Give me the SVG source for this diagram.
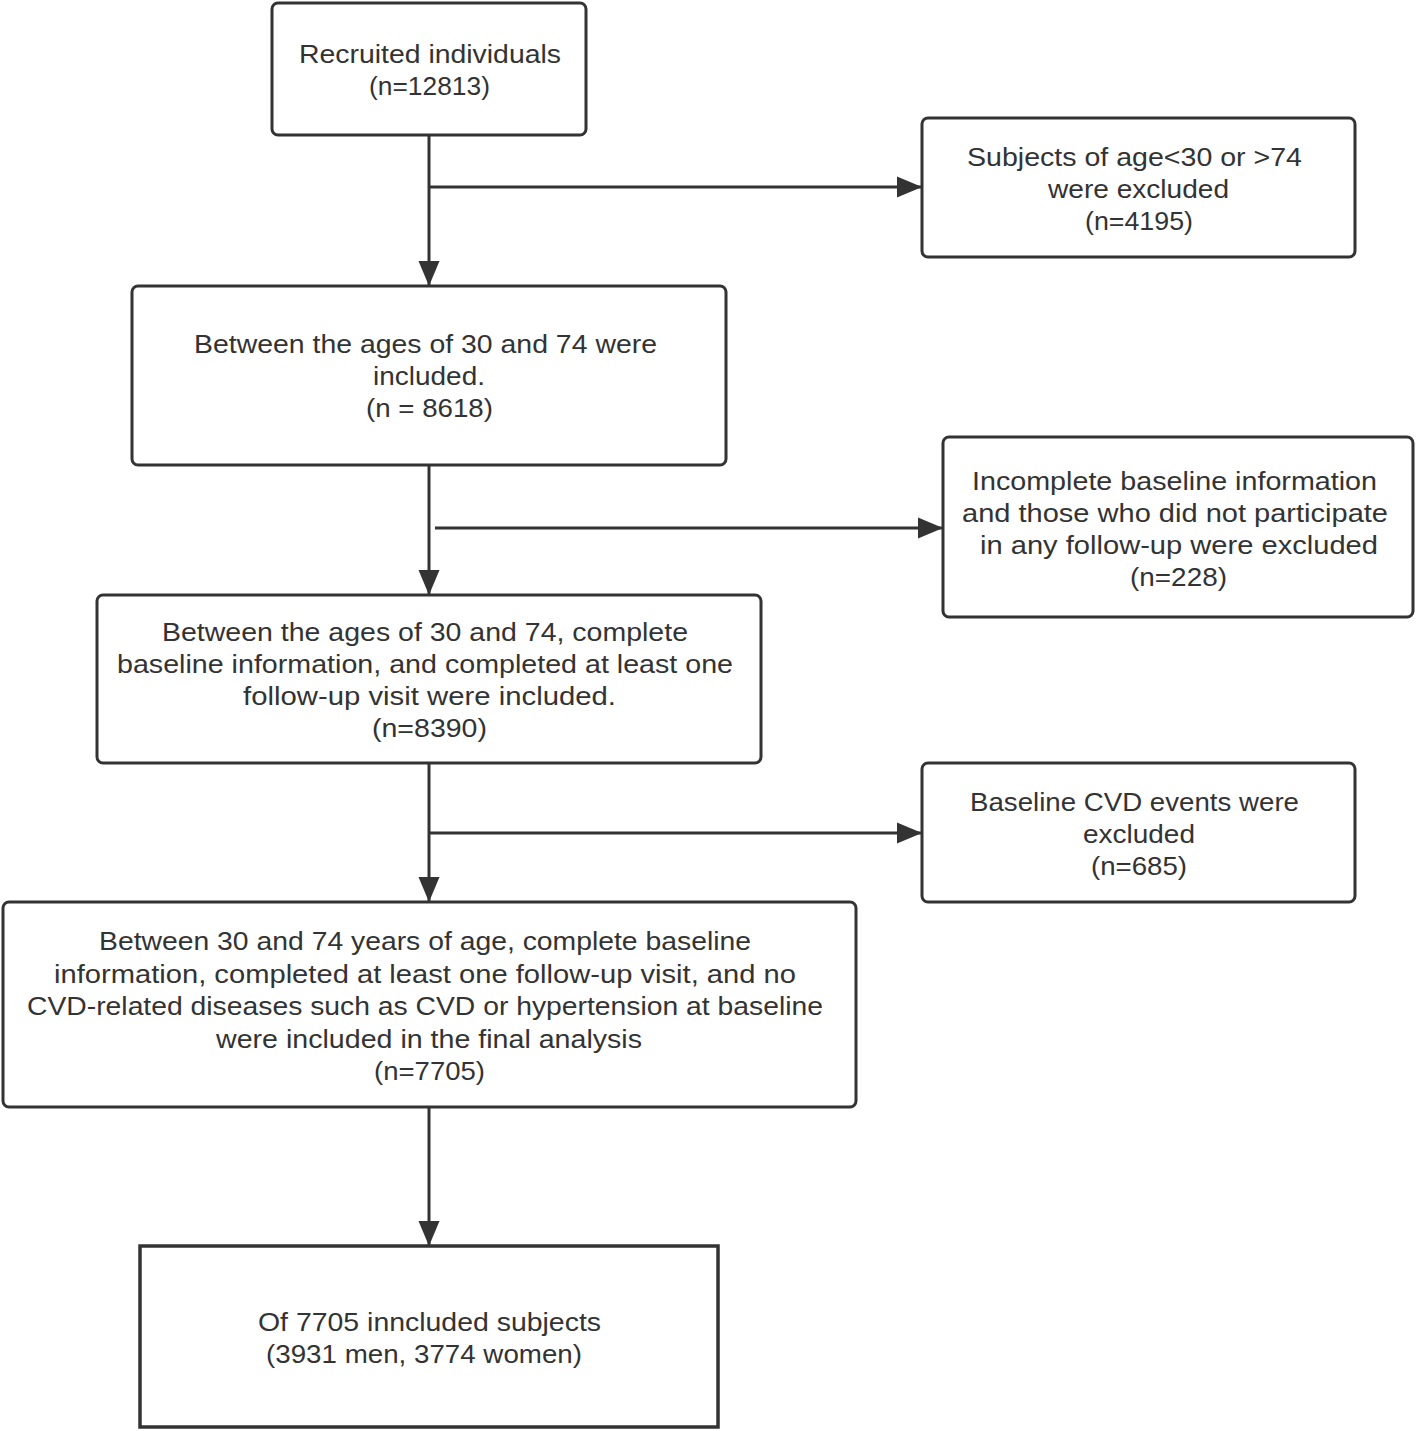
<svg xmlns="http://www.w3.org/2000/svg" width="1416" height="1431" viewBox="0 0 1416 1431">
<defs>
<style>
.box{fill:#fff;stroke:#333;stroke-width:3}
.t{font-family:"Liberation Sans",Arial,sans-serif;font-size:25px;fill:#333;text-anchor:middle}
.c{font-family:"Liberation Sans",Arial,sans-serif;font-size:26px;fill:#333;text-anchor:middle}
.ln{fill:none;stroke:#333;stroke-width:3}
</style>
<marker id="ah" markerUnits="userSpaceOnUse" markerWidth="26" markerHeight="22" refX="25" refY="11" orient="auto">
<path d="M0,0.5 L25,11 L0,21.5 Z" fill="#333"/>
</marker>
</defs>
<rect width="1416" height="1431" fill="#fff"/>
<g id="connectors">
<line class="ln" x1="429" y1="135" x2="429" y2="286" marker-end="url(#ah)"/>
<line class="ln" x1="429" y1="187" x2="922" y2="187" marker-end="url(#ah)"/>
<line class="ln" x1="429" y1="465" x2="429" y2="595" marker-end="url(#ah)"/>
<line class="ln" x1="435" y1="528" x2="943" y2="528" marker-end="url(#ah)"/>
<line class="ln" x1="429" y1="763" x2="429" y2="902" marker-end="url(#ah)"/>
<line class="ln" x1="429" y1="833" x2="922" y2="833" marker-end="url(#ah)"/>
<line class="ln" x1="429" y1="1107" x2="429" y2="1246" marker-end="url(#ah)"/>
</g>
<g id="n1">
<rect class="box" x="272" y="3" width="314" height="132" rx="6"/>
<text class="t" x="430" y="63" textLength="262" lengthAdjust="spacingAndGlyphs">Recruited individuals</text>
<text class="t" x="429.5" y="95" textLength="121" lengthAdjust="spacingAndGlyphs">(n=12813)</text>
</g>
<g id="n2">
<rect class="box" x="922" y="118" width="433" height="139" rx="6"/>
<text class="t" x="1134.5" y="166" textLength="335" lengthAdjust="spacingAndGlyphs">Subjects of age&lt;30 or &gt;74</text>
<text class="t" x="1138.5" y="198" textLength="181" lengthAdjust="spacingAndGlyphs">were excluded</text>
<text class="t" x="1139" y="230" textLength="108" lengthAdjust="spacingAndGlyphs">(n=4195)</text>
</g>
<g id="n3">
<rect class="box" x="132" y="286" width="594" height="179" rx="6"/>
<text class="t" x="425.5" y="353" textLength="463" lengthAdjust="spacingAndGlyphs">Between the ages of 30 and 74 were</text>
<text class="t" x="429" y="385" textLength="112" lengthAdjust="spacingAndGlyphs">included.</text>
<text class="t" x="429.5" y="417" textLength="127" lengthAdjust="spacingAndGlyphs">(n = 8618)</text>
</g>
<g id="n4">
<rect class="box" x="943" y="437" width="470" height="180" rx="6"/>
<text class="t" x="1174.5" y="490" textLength="405" lengthAdjust="spacingAndGlyphs">Incomplete baseline information</text>
<text class="t" x="1175" y="522" textLength="426" lengthAdjust="spacingAndGlyphs">and those who did not participate</text>
<text class="t" x="1179" y="554" textLength="398" lengthAdjust="spacingAndGlyphs">in any follow-up were excluded</text>
<text class="t" x="1178.5" y="586" textLength="97" lengthAdjust="spacingAndGlyphs">(n=228)</text>
</g>
<g id="n5">
<rect class="box" x="97" y="595" width="664" height="168" rx="6"/>
<text class="t" x="425" y="641" textLength="526" lengthAdjust="spacingAndGlyphs">Between the ages of 30 and 74, complete</text>
<text class="t" x="425" y="673" textLength="616" lengthAdjust="spacingAndGlyphs">baseline information, and completed at least one</text>
<text class="t" x="429.5" y="705" textLength="373" lengthAdjust="spacingAndGlyphs">follow-up visit were included.</text>
<text class="t" x="429.5" y="737" textLength="115" lengthAdjust="spacingAndGlyphs">(n=8390)</text>
</g>
<g id="n6">
<rect class="box" x="922" y="763" width="433" height="139" rx="6"/>
<text class="t" x="1134.5" y="811" textLength="329" lengthAdjust="spacingAndGlyphs">Baseline CVD events were</text>
<text class="t" x="1139" y="843" textLength="112" lengthAdjust="spacingAndGlyphs">excluded</text>
<text class="t" x="1139" y="875" textLength="96" lengthAdjust="spacingAndGlyphs">(n=685)</text>
</g>
<g id="n7">
<rect class="box" x="3" y="902" width="853" height="205" rx="6"/>
<text class="c" x="425" y="950" textLength="652" lengthAdjust="spacingAndGlyphs">Between 30 and 74 years of age, complete baseline</text>
<text class="c" x="425" y="983" textLength="742" lengthAdjust="spacingAndGlyphs">information, completed at least one follow-up visit, and no</text>
<text class="c" x="425" y="1015" textLength="796" lengthAdjust="spacingAndGlyphs">CVD-related diseases such as CVD or hypertension at baseline</text>
<text class="c" x="429" y="1048" textLength="426" lengthAdjust="spacingAndGlyphs">were included in the final analysis</text>
<text class="c" x="429.5" y="1080" textLength="111" lengthAdjust="spacingAndGlyphs">(n=7705)</text>
</g>
<g id="n8">
<rect x="140" y="1246" width="578" height="181" fill="#fff" stroke="#333" stroke-width="3.5"/>
<text class="t" x="429.5" y="1331" textLength="343" lengthAdjust="spacingAndGlyphs">Of 7705 inncluded subjects</text>
<text class="t" x="424" y="1363" textLength="316" lengthAdjust="spacingAndGlyphs">(3931 men, 3774 women)</text>
</g>
</svg>
